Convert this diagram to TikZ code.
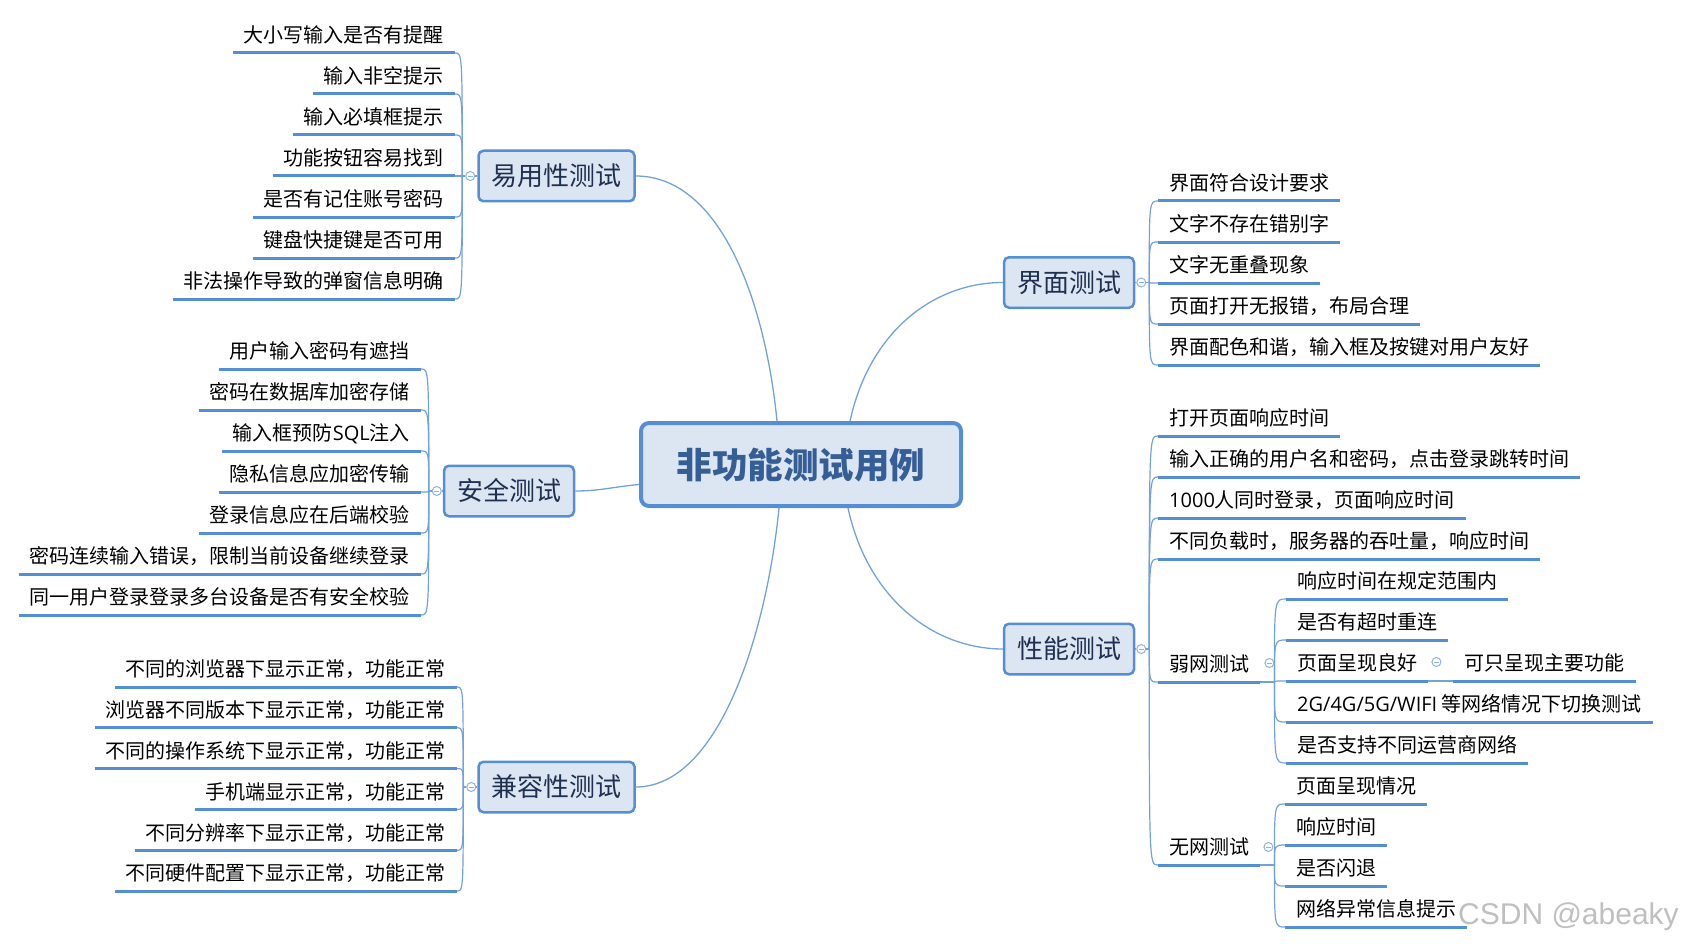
\documentclass[tikz,border=0pt]{standalone}
\usepackage{fontspec}
\setmainfont{Noto Sans CJK SC}
\newfontfamily\wmfont{Liberation Sans}
\newfontfamily\latin{Open Sans}
\usepackage{xcolor}
\definecolor{cLine}{HTML}{558ED5}
\definecolor{cFan}{HTML}{73A1DC}
\definecolor{cFill}{HTML}{DCE6F2}
\definecolor{cTopic}{HTML}{1F3050}
\definecolor{cRoot}{HTML}{355E96}
\definecolor{cFold}{HTML}{8DB3E2}
\usetikzlibrary{positioning,calc}
\tikzset{
  node-root/.style={draw=cLine,line width=4pt,fill=cFill,rounded corners=8pt,
    minimum width=320pt,minimum height=83pt,text height=27pt,text depth=0pt,
    font=\fontsize{35.5}{36}\selectfont\bfseries,text=cRoot},
  node-topic/.style={draw=cLine,line width=2.5pt,fill=cFill,rounded corners=5pt,
    minimum height=50.5pt,inner xsep=13pt,text height=19.8pt,text depth=0pt,
    font=\fontsize{26}{28}\selectfont,text=cTopic},
  node-leaf/.style={inner xsep=11pt,inner ysep=10pt,text height=14pt,text depth=0pt,
    font=\fontsize{20}{22}\selectfont},
  node-fold/.style={circle,draw=cFold,line width=1pt,fill=white,minimum size=9pt,
    inner sep=0pt,path picture={\draw[cFold,line width=0.8pt]
      ([xshift=-2.5pt]path picture bounding box.center) --
      ([xshift=2.5pt]path picture bounding box.center);}},
  uline/.style={draw=cLine,line width=3pt},
  branch/.style={draw=cFan,line width=1.3pt},
  fan/.style={draw=cFan,line width=1.2pt},
}
\begin{document}
\begin{tikzpicture}[x=1pt,y=-1pt]
  \useasboundingbox (0,0) rectangle (1683,944);
  % centre and main topics
  \node[node-root] (root) at (801,464.5) {非功能测试用例};
  \node[node-topic] (easy) at (556.5,176) {易用性测试};
  \node[node-topic] (safe) at (509,491) {安全测试};
  \node[node-topic] (comp) at (556.5,787) {兼容性测试};
  \node[node-topic] (ui) at (1069,282.5) {界面测试};
  \node[node-topic] (perf) at (1069,649) {性能测试};
  \draw[branch] ($(root.north)+(-24,0)$) .. controls (765,300) and (720,176) .. (easy.east);
  \draw[branch] ($(root.west)+(0,20)$) .. controls (612,487) and (600,491) .. (safe.east);
  \draw[branch] ($(root.south)+(-22,0)$) .. controls (767,630) and (720,787) .. (comp.east);
  \draw[branch] ($(root.north)+(49,0)$) .. controls (870,330) and (935,282.5) .. (ui.west);
  \draw[branch] ($(root.south)+(47,0)$) .. controls (868,600) and (935,649) .. (perf.west);

  % 易用性测试
  \node[node-fold] (ef) at ($(easy.west)+(-7,0)$) {};
  \coordinate (ej) at ($(ef)+(-8,0)$);
  \draw[fan] (easy.west) -- (ef.east);
  \draw[fan] (ef.west) -- (ej);
  \foreach \t [count=\i from 0] in {大小写输入是否有提醒,输入非空提示,输入必填框提示,
    功能按钮容易找到,是否有记住账号密码,键盘快捷键是否可用,非法操作导致的弹窗信息明确}{
    \node[node-leaf,anchor=south east] (e\i) at (455,53+41*\i) {\t};
    \draw[fan] (ej) .. controls (ej |- e\i.south east) .. (e\i.south east);
    \draw[uline] (e\i.south west) -- (e\i.south east);
  }

  % 安全测试
  \node[node-fold] (sf) at ($(safe.west)+(-6,0)$) {};
  \coordinate (sj) at ($(sf)+(-8,0)$);
  \draw[fan] (safe.west) -- (sf.east);
  \draw[fan] (sf.west) -- (sj);
  \foreach \t [count=\i from 0] in {用户输入密码有遮挡,密码在数据库加密存储,输入框预防{\latin SQL}注入,
    隐私信息应加密传输,登录信息应在后端校验,密码连续输入错误，限制当前设备继续登录,
    同一用户登录登录多台设备是否有安全校验}{
    \node[node-leaf,anchor=south east] (s\i) at (421,369+41*\i) {\t};
    \draw[fan] (sj) .. controls (sj |- s\i.south east) .. (s\i.south east);
    \draw[uline] (s\i.south west) -- (s\i.south east);
  }

  % 兼容性测试
  \node[node-fold] (cf) at ($(comp.west)+(-6,0)$) {};
  \coordinate (cj) at ($(cf)+(-8,0)$);
  \draw[fan] (comp.west) -- (cf.east);
  \draw[fan] (cf.west) -- (cj);
  \foreach \t [count=\i from 0] in {不同的浏览器下显示正常，功能正常,浏览器不同版本下显示正常，功能正常,
    不同的操作系统下显示正常，功能正常,手机端显示正常，功能正常,不同分辨率下显示正常，功能正常,
    不同硬件配置下显示正常，功能正常}{
    \node[node-leaf,anchor=south east] (c\i) at (457,687+40.8*\i) {\t};
    \draw[fan] (cj) .. controls (cj |- c\i.south east) .. (c\i.south east);
    \draw[uline] (c\i.south west) -- (c\i.south east);
  }

  % 界面测试
  \node[node-fold] (uf) at ($(ui.east)+(6,0)$) {};
  \coordinate (uj) at ($(uf)+(8,0)$);
  \draw[fan] (ui.east) -- (uf.west);
  \draw[fan] (uf.east) -- (uj);
  \foreach \t [count=\i from 0] in {界面符合设计要求,文字不存在错别字,文字无重叠现象,
    页面打开无报错，布局合理,界面配色和谐，输入框及按键对用户友好}{
    \node[node-leaf,anchor=south west] (u\i) at (1158,201+41*\i) {\t};
    \draw[fan] (uj) .. controls (uj |- u\i.south west) .. (u\i.south west);
    \draw[uline] (u\i.south west) -- (u\i.south east);
  }

  % 性能测试
  \node[node-fold] (pf) at ($(perf.east)+(6,0)$) {};
  \coordinate (pj) at ($(pf)+(8,0)$);
  \draw[fan] (perf.east) -- (pf.west);
  \draw[fan] (pf.east) -- (pj);
  \foreach \t [count=\i from 0] in {打开页面响应时间,输入正确的用户名和密码，点击登录跳转时间,
    {\latin 1000}人同时登录，页面响应时间,不同负载时，服务器的吞吐量，响应时间}{
    \node[node-leaf,anchor=south west] (p\i) at (1158,436+41*\i) {\t};
    \draw[fan] (pj) .. controls (pj |- p\i.south west) .. (p\i.south west);
    \draw[uline] (p\i.south west) -- (p\i.south east);
  }
  \node[node-leaf,anchor=south west] (pw) at (1158,682) {弱网测试};
  \node[node-leaf,anchor=south west] (pn) at (1158,865) {无网测试};
  \foreach \n in {pw,pn}{
    \draw[fan] (pj) .. controls (pj |- \n.south west) .. (\n.south west);
    \draw[uline] (\n.south west) -- (\n.south east);
  }

  % 弱网测试
  \node[node-fold] (wf) at ($(pw.south east)+(9,-19)$) {};
  \coordinate (wj) at ($(pw.south east)+(14,0)$);
  \draw[fan] (pw.south east) -- (wj);
  \foreach \t [count=\i from 0] in {响应时间在规定范围内,是否有超时重连,页面呈现良好,
    {\latin 2G/4G/5G/WIFI} 等网络情况下切换测试,是否支持不同运营商网络}{
    \node[node-leaf,anchor=south west] (w\i) at (1286,599+41*\i) {\t};
    \draw[fan] (wj) .. controls (wj |- w\i.south west) .. (w\i.south west);
    \draw[uline] (w\i.south west) -- (w\i.south east);
  }
  \node[node-fold] (gf) at ($(w2.south east)+(8,-19)$) {};
  \node[node-leaf,anchor=south west] (g0) at ($(w2.south east)+(25,0)$) {可只呈现主要功能};
  \draw[fan] (w2.south east) -- (g0.south west);
  \draw[uline] (g0.south west) -- (g0.south east);

  % 无网测试
  \node[node-fold] (nf) at ($(pn.south east)+(8,-18)$) {};
  \coordinate (nj) at ($(pn.south east)+(14,0)$);
  \draw[fan] (pn.south east) -- (nj);
  \foreach \t [count=\i from 0] in {页面呈现情况,响应时间,是否闪退,网络异常信息提示}{
    \node[node-leaf,anchor=south west] (n\i) at (1285,804+41*\i) {\t};
    \draw[fan] (nj) .. controls (nj |- n\i.south west) .. (n\i.south west);
    \draw[uline] (n\i.south west) -- (n\i.south east);
  }

  \node[font=\wmfont\fontsize{30}{32}\selectfont,text=gray!50,anchor=base west,inner sep=0pt]
    (wm) at (1458,924) {CSDN @abeaky};
\end{tikzpicture}
\end{document}
